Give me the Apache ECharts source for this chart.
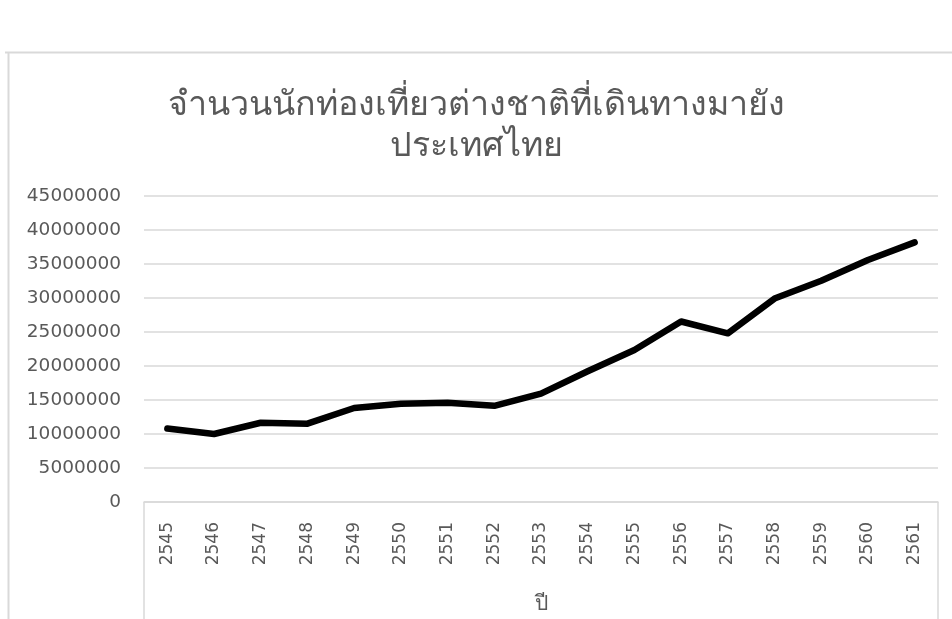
<!DOCTYPE html>
<html>
<head>
<meta charset="utf-8">
<script src="https://cdn.jsdelivr.net/npm/echarts@6/dist/echarts.min.js"></script>
<style>
  html, body { margin: 0; padding: 0; background: #ffffff; }
  #chart { width: 952px; height: 619px; }
</style>
</head>
<body>
<div id="chart"></div>
<script>
// Buddhist-era years on the category axis
const years = ['2545','2546','2547','2548','2549','2550','2551','2552','2553',
               '2554','2555','2556','2557','2558','2559','2560','2561'];
// International tourist arrivals to Thailand
const arrivals = [10799067, 10004453, 11650703, 11516936, 13821802, 14464228,
                  14584220, 14149841, 15936400, 19230470, 22353903, 26546725,
                  24809683, 29923185, 32529588, 35591978, 38178194];
const yMax = 45000000;
const yStep = 5000000;

const titleText = 'จำนวนนักท่องเที่ยวต่างชาติที่เดินทางมายัง\nประเทศไทย';
const xName = 'ปี';

const gray = '#d9d9d9';
const textGray = '#595959';
const font = '"DejaVu Sans", sans-serif';

const chart = echarts.init(document.getElementById('chart'), null, { renderer: 'canvas' });

const gridLeft = 144, gridRight = 14, gridTop = 196, gridBottom = 117;

chart.setOption({
  backgroundColor: '#ffffff',
  animation: false,
  title: {
    text: titleText,
    left: 'center',
    top: 81,
    textStyle: {
      color: textGray,
      fontSize: 34,
      fontWeight: 'normal',
      lineHeight: 41,
      fontFamily: font
    }
  },
  grid: { left: gridLeft, right: gridRight, top: gridTop, bottom: gridBottom, containLabel: false },
  xAxis: {
    type: 'category',
    data: years,
    boundaryGap: true,
    name: xName,
    nameLocation: 'middle',
    nameGap: 92,
    nameTextStyle: { color: textGray, fontSize: 21, fontFamily: font },
    axisLine: { show: true, lineStyle: { color: gray, width: 1.5 } },
    axisTick: { show: false },
    axisLabel: {
      rotate: 90,
      margin: 20,
      color: textGray,
      fontSize: 17,
      fontFamily: font
    },
    splitLine: { show: false }
  },
  yAxis: {
    type: 'value',
    min: 0,
    max: yMax,
    interval: yStep,
    axisLine: { show: false },
    axisTick: { show: false },
    axisLabel: {
      margin: 23,
      color: textGray,
      fontSize: 18.5,
      fontFamily: font,
      formatter: v => String(v)
    },
    splitLine: { show: true, lineStyle: { color: gray, width: 1.5 } }
  },
  series: [{
    type: 'line',
    data: arrivals,
    symbol: 'none',
    smooth: false,
    lineStyle: { color: '#000000', width: 6.5, join: 'round', cap: 'round' }
  }],
  graphic: [
    // outer chart frame (top and left edges)
    { type: 'line', shape: { x1: 5, y1: 52.5, x2: 952, y2: 52.5 }, style: { stroke: gray, lineWidth: 2 } },
    { type: 'line', shape: { x1: 8.5, y1: 52, x2: 8.5, y2: 619 }, style: { stroke: gray, lineWidth: 2 } },
    // side edges of the category label box
    { type: 'line', shape: { x1: gridLeft, y1: 502, x2: gridLeft, y2: 619 }, style: { stroke: gray, lineWidth: 1.5 } },
    { type: 'line', shape: { x1: 952 - gridRight, y1: 502, x2: 952 - gridRight, y2: 619 }, style: { stroke: gray, lineWidth: 1.5 } }
  ]
});
</script>
</body>
</html>
